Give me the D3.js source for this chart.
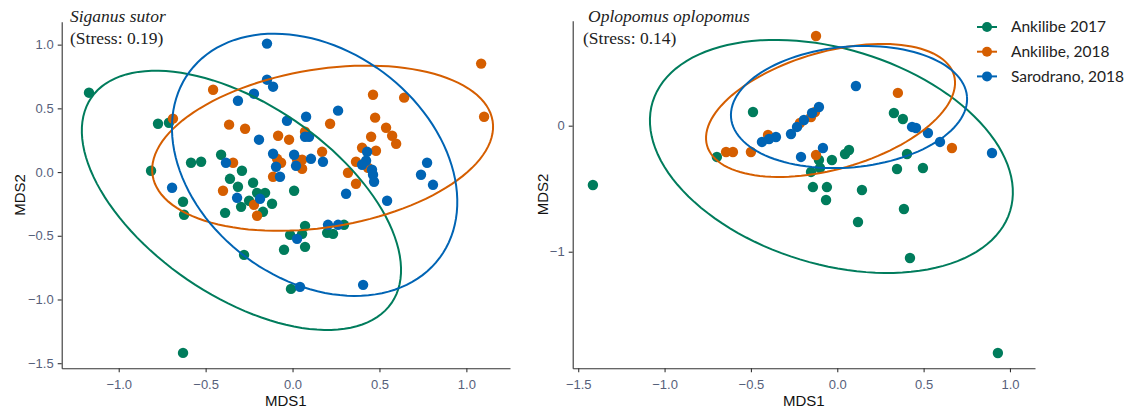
<!DOCTYPE html>
<html>
<head>
<meta charset="utf-8">
<script src="https://cdn.jsdelivr.net/npm/d3@7"></script>
<style>
  body { margin: 0; background: #fff; }
  .tick text { fill: #56607a; font-family: "Liberation Sans", Arial, sans-serif; font-size: 13px; }
  .domain, .tick line { stroke: #333; stroke-width: 1.1px; }
</style>
</head>
<body>
<div id="chart"></div>
<script>
// groups
var groups = ["Ankilibe 2017", "Ankilibe, 2018", "Sarodrano, 2018"];
var colors = ["#007c5c", "#d55e00", "#0064b4"];

// Siganus sutor: [MDS1, MDS2]
var sigGreen = [[-1.171,0.623],[-0.774,0.379],[-0.711,0.387],[-0.814,0.010],[-0.584,0.073],[-0.526,0.081],
  [-0.411,0.136],[-0.291,0.010],[-0.360,-0.053],[-0.314,-0.115],[-0.227,-0.084],[-0.630,-0.233],[-0.624,-0.335],
  [-0.388,-0.320],[-0.296,-0.273],[-0.250,-0.225],[-0.204,-0.163],[-0.158,-0.163],[-0.118,-0.249],[-0.170,-0.312],
  [0.009,-0.147],[-0.014,-0.493],[-0.049,-0.610],[0.072,-0.422],[0.055,-0.485],[0.072,-0.587],[0.199,-0.477],
  [0.233,-0.485],[0.296,-0.414],[-0.279,-0.650],[-0.009,-0.917],[-0.630,-1.419]];
var sigOrange = [[-0.457,0.646],[-0.688,0.419],[-0.365,0.372],[-0.273,0.340],[-0.083,0.285],[-0.020,0.254],
  [-0.342,0.073],[-0.089,0.104],[-0.066,0.073],[-0.112,-0.037],[0.026,0.097],[-0.400,-0.147],[-0.222,-0.257],
  [-0.204,-0.343],[1.085,0.851],[1.102,0.434],[0.463,0.607],[0.642,0.584],[0.475,0.427],[0.216,0.379],
  [0.538,0.348],[0.573,0.285],[0.596,0.222],[0.452,0.277],[0.072,0.317],[0.170,0.159],[0.055,0.097],
  [0.055,0.026],[0.400,0.191],[0.480,0.167],[0.365,0.081],[0.319,-0.005],[0.434,0.034],[0.365,-0.092]];
var sigBlue = [[-0.147,1.008],[-0.147,0.725],[-0.112,0.670],[-0.222,0.615],[-0.314,0.560],[0.262,0.482],
  [-0.032,0.403],[0.078,0.434],[-0.193,0.254],[0.072,0.277],[0.095,0.277],[-0.112,0.144],[0.009,0.136],
  [-0.095,0.042],[-0.072,-0.037],[0.020,0.049],[0.106,0.104],[0.175,0.081],[-0.383,0.073],[0.429,0.159],
  [0.423,0.089],[0.400,0.057],[0.457,0.018],[0.463,-0.021],[0.469,-0.076],[0.774,0.073],[0.739,-0.021],
  [0.808,-0.100],[-0.693,-0.123],[-0.319,-0.202],[-0.187,-0.210],[0.308,-0.170],[0.544,-0.225],
  [0.204,-0.414],[0.262,-0.414],[0.026,-0.524],[0.043,-0.901],[0.406,-0.885]];

// Oplopomus oplopomus: [MDS1, MDS2]
var oplGreen = [[-0.488,0.109],[-0.697,-0.248],[-1.415,-0.471],[-0.152,-0.367],[-0.106,-0.272],[-0.100,-0.336],
  [-0.031,-0.272],[0.045,-0.225],[0.068,-0.193],[-0.141,-0.487],[-0.060,-0.487],[-0.065,-0.590],[0.143,-0.510],
  [0.120,-0.764],[0.328,0.101],[0.380,0.053],[0.404,-0.225],[0.346,-0.344],[0.496,-0.336],[0.386,-0.661],
  [0.421,-1.050],[0.930,-1.804]];
var oplOrange = [[-0.123,0.712],[-0.644,-0.209],[-0.604,-0.209],[-0.500,-0.209],[-0.401,-0.074],[-0.216,0.021],
  [-0.152,0.069],[-0.129,0.109],[-0.123,-0.233],[0.351,0.260],[0.664,-0.177]];
var oplBlue = [[0.108,0.315],[-0.106,0.148],[-0.146,0.101],[-0.193,0.045],[-0.233,-0.010],[-0.268,-0.066],
  [-0.355,-0.090],[-0.395,-0.106],[-0.436,-0.129],[-0.083,-0.177],[-0.210,-0.248],[0.433,-0.010],
  [0.456,-0.018],[0.525,-0.058],[0.595,-0.129],[0.896,-0.217]];

// ellipses: [centre x, centre y, axis1 x, axis1 y, axis2 x, axis2 y]
var sigEllipses = [[-0.294,-0.222,0.864,-0.805,-0.311,-0.622],
  [0.173,0.187,0.978,0.214,0.072,-0.612],
  [0.127,0.057,0.719,-0.731,-0.396,-0.724]];
var oplEllipses = [[-0.034,-0.244,1.035,-0.433,-0.182,-0.817],
  [-0.039,0.121,0.715,0.279,0.093,-0.448],
  [0.068,0.148,0.683,0.086,0.032,-0.477]];

// ticks
var sigXTicks = [-1.0, -0.5, 0.0, 0.5, 1.0];
var sigYTicks = [-1.5, -1.0, -0.5, 0.0, 0.5, 1.0];
var oplXTicks = [-1.5, -1.0, -0.5, 0.0, 0.5, 1.0];
var oplYTicks = [-1, 0];

var width = 1132, height = 412;

var svg = d3.select("#chart").append("svg")
  .attr("width", width)
  .attr("height", height)
  .style("font-family", "'Liberation Sans', Arial, sans-serif");

var panels = [
  { title: "Siganus sutor", stress: "(Stress: 0.19)", titleX: 70, stressX: 70,
    xDom: [-1.328, 1.251], yDom: [-1.54, 1.18], left: 61.7, right: 510, top: 21.7, bottom: 368.3,
    xTicks: sigXTicks, yTicks: sigYTicks, fmtY: d3.format(".1f"), yTitleX: 20,
    series: [sigGreen, sigOrange, sigBlue], ellipses: sigEllipses },
  { title: "Oplopomus oplopomus", stress: "(Stress: 0.14)", titleX: 588, stressX: 583,
    xDom: [-1.532, 1.145], yDom: [-1.925, 0.833], left: 572.7, right: 1035, top: 20.7, bottom: 368.3,
    xTicks: oplXTicks, yTicks: oplYTicks, fmtY: d3.format("d"), yTitleX: 543,
    series: [oplGreen, oplOrange, oplBlue], ellipses: oplEllipses }
];

panels.forEach(drawPanel);

function drawPanel(p) {
  var x = d3.scaleLinear().domain(p.xDom).range([p.left, p.right]);
  var y = d3.scaleLinear().domain(p.yDom).range([p.bottom, p.top]);
  var g = svg.append("g");

  g.append("g")
    .attr("transform", `translate(0, ${p.bottom})`)
    .call(d3.axisBottom(x).tickValues(p.xTicks).tickFormat(d3.format(".1f")).tickSize(4).tickSizeOuter(0).tickPadding(4))
    .call(a => a.selectAll("text").attr("dy", "0.95em"));

  g.append("g")
    .attr("transform", `translate(${p.left}, 0)`)
    .call(d3.axisLeft(y).tickValues(p.yTicks).tickFormat(p.fmtY).tickSize(4).tickSizeOuter(0).tickPadding(4));

  // points
  p.series.forEach(function (pts, i) {
    g.append("g").selectAll("circle")
      .data(pts)
      .enter()
      .append("circle")
      .attr("cx", d => x(d[0]))
      .attr("cy", d => y(d[1]))
      .attr("r", 5.2)
      .attr("fill", colors[i]);
  });

  // ellipses
  var line = d3.line().x(d => x(d[0])).y(d => y(d[1]));
  p.ellipses.forEach(function (e, i) {
    var ring = d3.range(0, 361, 3).map(function (deg) {
      var t = deg * Math.PI / 180;
      return [e[0] + Math.cos(t) * e[2] + Math.sin(t) * e[4],
              e[1] + Math.cos(t) * e[3] + Math.sin(t) * e[5]];
    });
    g.append("path")
      .attr("d", line(ring))
      .attr("fill", "none")
      .attr("stroke", colors[i])
      .attr("stroke-width", 2);
  });

  // axis titles
  g.append("text")
    .attr("x", (p.left + p.right) / 2)
    .attr("y", 406)
    .attr("text-anchor", "middle")
    .attr("font-size", "15px")
    .attr("fill", "#111")
    .text("MDS1");

  g.append("text")
    .attr("transform", `translate(${p.yTitleX + 5}, ${(p.top + p.bottom) / 2}) rotate(-90)`)
    .attr("text-anchor", "middle")
    .attr("font-size", "15px")
    .attr("fill", "#111")
    .text("MDS2");

  // species label
  g.append("text")
    .attr("x", p.titleX)
    .attr("y", 22)
    .attr("font-family", "'Liberation Serif', 'Times New Roman', serif")
    .attr("font-style", "italic")
    .attr("font-size", "17.5px")
    .attr("fill", "#222")
    .text(p.title);

  g.append("text")
    .attr("x", p.stressX)
    .attr("y", 44)
    .attr("font-family", "'Liberation Serif', 'Times New Roman', serif")
    .attr("font-size", "17.5px")
    .attr("fill", "#222")
    .text(p.stress);
}

// legend
var legend = svg.append("g").attr("transform", "translate(977, 27)");
groups.forEach(function (name, i) {
  var row = legend.append("g").attr("transform", `translate(0, ${i * 24.7})`);
  row.append("line")
    .attr("x1", 0).attr("x2", 20)
    .attr("stroke", colors[i])
    .attr("stroke-width", 2);
  row.append("circle")
    .attr("cx", 10).attr("r", 5)
    .attr("fill", colors[i]);
  row.append("text")
    .attr("x", 34)
    .attr("dy", "0.35em")
    .attr("font-family", "Lato, 'Open Sans', sans-serif")
    .attr("font-size", "15.5px")
    .attr("fill", "#222")
    .text(name);
});
</script>
</body>
</html>
